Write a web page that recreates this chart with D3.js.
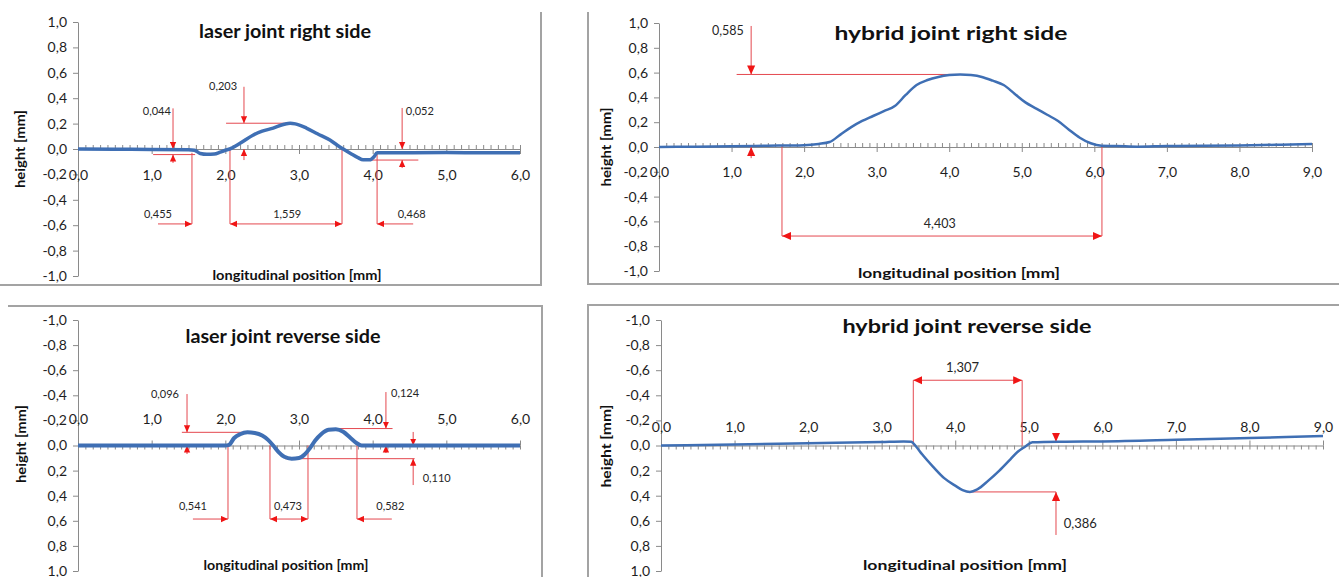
<!DOCTYPE html>
<html>
<head>
<meta charset="utf-8">
<script src="https://cdn.jsdelivr.net/npm/d3@7"></script>
<style>
  body { margin: 0; background: #fff; }
  svg { display: block; }
  text { font-family: Lato, "Open Sans", sans-serif; }
</style>
</head>
<body>
<div id="chart"></div>
<script>
// ---------------------------------------------
// data (height in mm vs. position in mm)
const laserRightX = [0, 0.5, 1.0, 1.5, 1.58, 1.66, 1.75, 1.85, 1.93, 2.0, 2.06, 2.2, 2.38, 2.5, 2.65, 2.8, 2.88, 2.95, 3.1, 3.25, 3.42, 3.52, 3.6, 3.7, 3.8, 3.87, 3.96, 4.02, 4.06, 4.5, 5.0, 5.5, 6.0];
const laserRightY = [0, -0.002, -0.004, -0.006, -0.01, -0.035, -0.042, -0.04, -0.025, -0.01, 0.0, 0.045, 0.11, 0.14, 0.165, 0.195, 0.203, 0.198, 0.165, 0.12, 0.07, 0.03, 0.0, -0.035, -0.068, -0.085, -0.085, -0.06, -0.03, -0.029, -0.028, -0.03, -0.03];

const hybridRightX = [0, 0.5, 1.0, 1.5, 2.0, 2.2, 2.35, 2.5, 2.65, 2.8, 2.95, 3.1, 3.25, 3.4, 3.55, 3.7, 3.85, 4.0, 4.15, 4.3, 4.45, 4.6, 4.75, 4.9, 5.05, 5.2, 5.35, 5.5, 5.65, 5.8, 5.95, 6.1, 6.3, 6.6, 7.0, 7.5, 8.0, 8.5, 9.0];
const hybridRightY = [0, 0.003, 0.006, 0.01, 0.015, 0.025, 0.04, 0.1, 0.16, 0.21, 0.25, 0.29, 0.33, 0.42, 0.5, 0.54, 0.565, 0.58, 0.585, 0.58, 0.565, 0.535, 0.5, 0.43, 0.36, 0.31, 0.26, 0.21, 0.14, 0.075, 0.03, 0.01, 0.008, 0.002, 0.008, 0.01, 0.012, 0.018, 0.025];

const laserReverseX = [0, 0.5, 1.0, 1.5, 2.0, 2.05, 2.12, 2.2, 2.3, 2.4, 2.5, 2.58, 2.65, 2.72, 2.8, 2.9, 3.0, 3.08, 3.15, 3.22, 3.3, 3.4, 3.5, 3.6, 3.7, 3.78, 3.85, 4.0, 4.5, 5.0, 5.5, 6.0];
const laserReverseY = [0, 0, 0, 0, 0, -0.005, -0.06, -0.09, -0.105, -0.1, -0.08, -0.045, 0.0, 0.05, 0.09, 0.105, 0.1, 0.07, 0.02, -0.04, -0.09, -0.125, -0.13, -0.11, -0.06, -0.02, 0.0, 0.0, 0.0, 0.0, 0.0, 0.0];

const hybridReverseX = [0, 1.0, 2.0, 3.0, 3.3, 3.4, 3.47, 3.55, 3.7, 3.85, 4.0, 4.1, 4.2, 4.3, 4.45, 4.6, 4.75, 4.85, 4.95, 5.05, 5.5, 6.0, 7.0, 8.0, 9.0];
const hybridReverseY = [0, -0.008, -0.018, -0.028, -0.032, -0.03, 0.01, 0.07, 0.17, 0.26, 0.32, 0.355, 0.37, 0.35, 0.28, 0.2, 0.11, 0.05, 0.01, -0.025, -0.03, -0.032, -0.045, -0.06, -0.075];

const titles = ['laser joint right side', 'hybrid joint right side', 'laser joint reverse side', 'hybrid joint reverse side'];
const xTitle = 'longitudinal position [mm]';
const yTitle = 'height [mm]';
const yTicks = [-1, -0.8, -0.6, -0.4, -0.2, 0, 0.2, 0.4, 0.6, 0.8, 1];

// measurement annotations (data units)
const laserRightNotes = [
    {t: 'text', x: 1.07, y: 0.268, s: '0,044'},
    {t: 'v', x: 1.29, y1: 0.32, y2: 0.0, head: 'end'},
    {t: 'h', y: -0.044, x1: 1.02, x2: 1.59},
    {t: 'v', x: 1.29, y1: -0.11, y2: -0.044, head: 'end'},
    {t: 'v', x: 1.547, y1: -0.03, y2: -0.59},
    {t: 'h', y: -0.59, x1: 1.086, x2: 1.547, head: 'end'},
    {t: 'text', x: 1.086, y: -0.543, s: '0,455'},
    {t: 'v', x: 2.063, y1: 0, y2: -0.59},
    {t: 'v', x: 3.584, y1: 0, y2: -0.59},
    {t: 'h', y: -0.59, x1: 2.063, x2: 3.584, head: 'both'},
    {t: 'text', x: 2.84, y: -0.543, s: '1,559'},
    {t: 'text', x: 1.97, y: 0.465, s: '0,203'},
    {t: 'v', x: 2.253, y1: 0.49, y2: 0.203, head: 'end'},
    {t: 'h', y: 0.203, x1: 2.01, x2: 2.88},
    {t: 'v', x: 2.253, y1: -0.087, y2: 0, head: 'end'},
    {t: 'text', x: 4.64, y: 0.268, s: '0,052'},
    {t: 'v', x: 4.40, y1: 0.323, y2: 0.0, head: 'end'},
    {t: 'h', y: -0.087, x1: 3.92, x2: 4.62},
    {t: 'v', x: 4.40, y1: -0.15, y2: -0.087, head: 'end'},
    {t: 'v', x: 4.06, y1: -0.03, y2: -0.59},
    {t: 'h', y: -0.59, x1: 4.55, x2: 4.06, head: 'end'},
    {t: 'text', x: 4.53, y: -0.543, s: '0,468'}
];
const hybridRightNotes = [
    {t: 'text', x: 0.95, y: 0.90, s: '0,585'},
    {t: 'v', x: 1.27, y1: 0.976, y2: 0.585, head: 'end'},
    {t: 'h', y: 0.585, x1: 1.07, x2: 4.1},
    {t: 'v', x: 1.27, y1: -0.09, y2: 0.0, head: 'end'},
    {t: 'v', x: 1.695, y1: 0.012, y2: -0.718},
    {t: 'v', x: 6.105, y1: 0.01, y2: -0.718},
    {t: 'h', y: -0.718, x1: 1.695, x2: 6.105, head: 'both'},
    {t: 'text', x: 3.87, y: -0.653, s: '4,403'}
];
const laserReverseNotes = [
    {t: 'text', x: 1.18, y: -0.378, s: '0,096'},
    {t: 'v', x: 1.48, y1: -0.41, y2: -0.105, head: 'end'},
    {t: 'h', y: -0.105, x1: 1.41, x2: 2.31},
    {t: 'v', x: 1.48, y1: 0.068, y2: 0.0, head: 'end'},
    {t: 'v', x: 2.036, y1: 0, y2: 0.586},
    {t: 'h', y: 0.586, x1: 1.56, x2: 2.036, head: 'end'},
    {t: 'text', x: 1.56, y: 0.514, s: '0,541'},
    {t: 'v', x: 2.606, y1: 0, y2: 0.586},
    {t: 'v', x: 3.122, y1: 0, y2: 0.586},
    {t: 'h', y: 0.586, x1: 2.606, x2: 3.122, head: 'both'},
    {t: 'text', x: 2.85, y: 0.514, s: '0,473'},
    {t: 'text', x: 4.44, y: -0.386, s: '0,124'},
    {t: 'v', x: 4.18, y1: -0.426, y2: -0.135, head: 'end'},
    {t: 'h', y: -0.135, x1: 3.42, x2: 4.27},
    {t: 'v', x: 4.18, y1: 0.06, y2: 0.0, head: 'end'},
    {t: 'h', y: 0.105, x1: 2.81, x2: 4.57},
    {t: 'v', x: 4.55, y1: 0.315, y2: 0.105, head: 'end'},
    {t: 'v', x: 4.55, y1: -0.108, y2: 0.0, head: 'end'},
    {t: 'text', x: 4.87, y: 0.29, s: '0,110'},
    {t: 'v', x: 3.787, y1: 0, y2: 0.586},
    {t: 'h', y: 0.586, x1: 4.26, x2: 3.787, head: 'end'},
    {t: 'text', x: 4.24, y: 0.514, s: '0,582'}
];
const hybridReverseNotes = [
    {t: 'v', x: 3.43, y1: 0, y2: -0.52},
    {t: 'v', x: 4.91, y1: 0, y2: -0.52},
    {t: 'h', y: -0.52, x1: 3.43, x2: 4.91, head: 'both'},
    {t: 'text', x: 4.1, y: -0.586, s: '1,307'},
    {t: 'v', x: 5.37, y1: -0.1, y2: -0.03, head: 'end'},
    {t: 'h', y: 0.37, x1: 4.16, x2: 5.37},
    {t: 'v', x: 5.37, y1: 0.713, y2: 0.37, head: 'end'},
    {t: 'text', x: 5.70, y: 0.657, s: '0,386'}
];

//----------------------------------------
// layout of the four panels (pixels)
const panels = [
    {xs: laserRightX, ys: laserRightY, notes: laserRightNotes, title: titles[0], xMax: 6,
     xr: [78, 520], yr: [276, 22], labPad: 16, lineW: 3.5, noteSize: 11, arrow: 'arrowSmall',
     tPos: [285, 38, 172, 18], xtPos: [297, 280, 169], ytPos: [25, 149, 78]},
    {xs: hybridRightX, ys: hybridRightY, notes: hybridRightNotes, title: titles[1], xMax: 9,
     xr: [659, 1312], yr: [271, 23], labPad: 15, lineW: 2.5, noteSize: 12.5, arrow: 'arrowBig',
     tPos: [951, 40, 233, 18], xtPos: [959, 278, 202], ytPos: [611, 147, 79]},
    {xs: laserReverseX, ys: laserReverseY, notes: laserReverseNotes, title: titles[2], xMax: 6,
     xr: [78, 520], yr: [320, 571], labPad: 17, lineW: 4, noteSize: 11, arrow: 'arrowSmall',
     tPos: [283, 343, 195, 18], xtPos: [286, 570, 165], ytPos: [26, 444, 78]},
    {xs: hybridReverseX, ys: hybridReverseY, notes: hybridReverseNotes, title: titles[3], xMax: 9,
     xr: [661, 1323], yr: [320, 571], labPad: 9, lineW: 2.5, noteSize: 13, arrow: 'arrowBig',
     tPos: [967, 333, 249, 18], xtPos: [965, 570, 204], ytPos: [611, 446, 83]}
];

// panel frames
const frames = [
    [[541, 12], [541, 285], [0, 285]],
    [[588, 12], [588, 284], [1339, 284]],
    [[8, 306], [542, 306], [542, 577]],
    [[1339, 305], [588, 305], [588, 577]]
];

const width = 1339, height = 577;
const svg = d3.select('#chart').append('svg')
    .attr('width', width)
    .attr('height', height);

const fmt = d3.formatLocale({decimal: ',', thousands: '.', grouping: [3], currency: ['', ''], minus: '-'}).format('.1f');

const defs = svg.append('defs');
[['arrowSmall', 7], ['arrowBig', 9]].forEach(function(m) {
    defs.append('marker')
        .attr('id', m[0])
        .attr('viewBox', '0 0 10 10')
        .attr('refX', 10).attr('refY', 5)
        .attr('markerUnits', 'userSpaceOnUse')
        .attr('markerWidth', m[1]).attr('markerHeight', m[1])
        .attr('orient', 'auto-start-reverse')
        .append('path')
        .attr('d', 'M0,0.5L10,5L0,9.5Z')
        .attr('fill', '#f01515');
});

svg.selectAll('polyline.frame')
    .data(frames)
    .enter()
    .append('polyline')
    .attr('class', 'frame')
    .attr('points', d => d.map(p => p.join(',')).join(' '))
    .attr('fill', 'none')
    .attr('stroke', '#a3a3a3')
    .attr('stroke-width', 2);

const axisColor = '#8a8a8a';

panels.forEach(function(p) {
    const g = svg.append('g');
    const inverted = p.yr[0] < p.yr[1];

    let x = d3.scaleLinear().domain([0, p.xMax]).range(p.xr);
    let y = d3.scaleLinear().domain([-1, 1]).range(p.yr);

    // y axis
    const yAxis = g.append('g')
        .attr('transform', 'translate(' + p.xr[0] + ',0)')
        .call(d3.axisLeft(y).tickValues(yTicks).tickFormat(fmt).tickSize(5).tickSizeOuter(0).tickPadding(6));

    // minor x ticks (every 0.1), opposite the labels
    const minor = d3.range(0, p.xMax * 10 + 1).map(i => i / 10);
    g.append('g')
        .attr('transform', 'translate(0,' + y(0) + ')')
        .call((inverted ? d3.axisBottom(x) : d3.axisTop(x)).tickValues(minor).tickSize(4).tickFormat(''))
        .call(a => a.select('.domain').remove());

    // major x axis
    const xAxis = g.append('g')
        .attr('transform', 'translate(0,' + y(0) + ')')
        .call((inverted ? d3.axisTop(x) : d3.axisBottom(x))
            .tickValues(d3.range(0, p.xMax + 1)).tickFormat(fmt).tickSize(5).tickSizeOuter(0).tickPadding(p.labPad));

    [yAxis, xAxis].forEach(function(a) {
        a.selectAll('.domain, line').attr('stroke', axisColor);
        a.selectAll('text')
            .attr('fill', '#1e1e1e')
            .style('font-size', '14px');
    });
    g.selectAll('.tick line').attr('stroke', axisColor);

    // annotations
    const red = '#e4484f';
    p.notes.forEach(function(n) {
        if (n.t === 'text') {
            g.append('text')
                .attr('x', x(n.x)).attr('y', y(n.y))
                .attr('text-anchor', 'middle')
                .attr('fill', '#262626')
                .style('font-size', p.noteSize + 'px')
                .text(n.s);
            return;
        }
        let ln = g.append('line').attr('stroke', red).attr('stroke-width', 1);
        if (n.t === 'v') {
            ln.attr('x1', x(n.x)).attr('x2', x(n.x)).attr('y1', y(n.y1)).attr('y2', y(n.y2));
        } else {
            ln.attr('x1', x(n.x1)).attr('x2', x(n.x2)).attr('y1', y(n.y)).attr('y2', y(n.y));
        }
        if (n.head) {
            ln.attr('marker-end', 'url(#' + p.arrow + ')');
            if (n.head === 'both') ln.attr('marker-start', 'url(#' + p.arrow + ')');
        }
    });

    // the profile line
    const pts = p.xs.map((v, i) => [v, p.ys[i]]);
    g.append('path')
        .datum(pts)
        .attr('d', d3.line().x(d => x(d[0])).y(d => y(d[1])).curve(d3.curveMonotoneX))
        .attr('fill', 'none')
        .attr('stroke', '#3f6fb4')
        .attr('stroke-width', p.lineW)
        .attr('stroke-linejoin', 'round');

    // titles
    g.append('text')
        .attr('x', p.tPos[0]).attr('y', p.tPos[1])
        .attr('text-anchor', 'middle')
        .attr('textLength', p.tPos[2]).attr('lengthAdjust', 'spacingAndGlyphs')
        .style('font-size', p.tPos[3] + 'px')
        .style('font-weight', 'bold')
        .attr('fill', '#111')
        .text(p.title);

    g.append('text')
        .attr('x', p.xtPos[0]).attr('y', p.xtPos[1])
        .attr('text-anchor', 'middle')
        .attr('textLength', p.xtPos[2]).attr('lengthAdjust', 'spacingAndGlyphs')
        .style('font-size', '13px')
        .style('font-weight', 'bold')
        .attr('fill', '#111')
        .text(xTitle);

    g.append('text')
        .attr('transform', 'translate(' + p.ytPos[0] + ',' + p.ytPos[1] + ') rotate(-90)')
        .attr('text-anchor', 'middle')
        .attr('textLength', p.ytPos[2]).attr('lengthAdjust', 'spacingAndGlyphs')
        .style('font-size', '13px')
        .style('font-weight', 'bold')
        .attr('fill', '#111')
        .text(yTitle);
});
</script>
</body>
</html>
